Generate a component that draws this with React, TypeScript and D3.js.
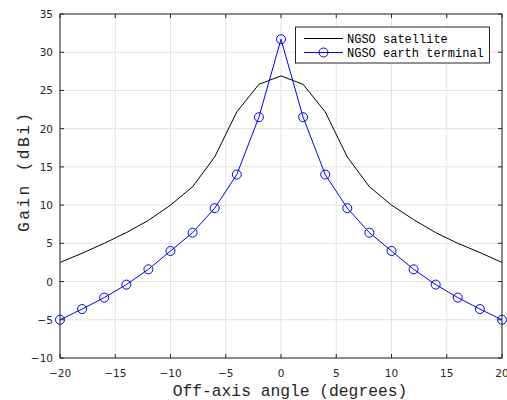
import React from "react";
import * as d3 from "d3";

const angles = [-20, -18, -16, -14, -12, -10, -8, -6, -4, -2, 0, 2, 4, 6, 8, 10, 12, 14, 16, 18, 20];
const satelliteGain = [2.5, 3.7, 5.0, 6.4, 8.0, 10.0, 12.4, 16.3, 22.2, 25.8, 26.9, 25.8, 22.2, 16.3, 12.4, 10.0, 8.1, 6.4, 5.0, 3.8, 2.5];
const terminalGain = [-5.0, -3.6, -2.1, -0.4, 1.6, 4.0, 6.4, 9.6, 14.0, 21.5, 31.7, 21.5, 14.0, 9.6, 6.4, 4.0, 1.6, -0.4, -2.1, -3.6, -5.0];
const xTicks = [-20, -15, -10, -5, 0, 5, 10, 15, 20];
const yTicks = [-10, -5, 0, 5, 10, 15, 20, 25, 30, 35];
const seriesNames = ["NGSO satellite", "NGSO earth terminal"];

export default function App() {
  const W = 507, H = 400;
  const L = 60, R = 502, T = 14, B = 358;
  const x = d3.scaleLinear().domain([-20, 20]).range([L, R]);
  const y = d3.scaleLinear().domain([-10, 35]).range([B, T]);
  const line = d3.line<number>().x((_, i) => x(angles[i])).y((d) => y(d));
  const fmt = (v: number) => (v < 0 ? "\u2212" + Math.abs(v) : String(v));
  const mono = "'Liberation Mono', 'DejaVu Sans Mono', monospace";
  const sans = "'DejaVu Sans', sans-serif";
  return (
    <svg width={W} height={H} style={{ position: "absolute", left: 0, top: 0, background: "#fff" }}>
      <rect x={0} y={0} width={W} height={H} fill="#fff" />
      {xTicks.map((t) => (
        <line key={"gx" + t} x1={x(t)} x2={x(t)} y1={T} y2={B} stroke="#e3e3e3" strokeWidth={1} />
      ))}
      {yTicks.map((t) => (
        <line key={"gy" + t} x1={L} x2={R} y1={y(t)} y2={y(t)} stroke="#e3e3e3" strokeWidth={1} />
      ))}
      <path d={line(satelliteGain) || ""} fill="none" stroke="#000" strokeWidth={1} />
      <path d={line(terminalGain) || ""} fill="none" stroke="#0000ff" strokeWidth={1} />
      {terminalGain.map((v, i) => (
        <circle key={"c" + i} cx={x(angles[i])} cy={y(v)} r={4.5} fill="none" stroke="#0000ff" strokeWidth={1} />
      ))}
      <rect x={L} y={T} width={R - L} height={B - T} fill="none" stroke="#262626" strokeWidth={1} />
      {xTicks.map((t) => (
        <g key={"tx" + t}>
          <line x1={x(t)} x2={x(t)} y1={B} y2={B - 4} stroke="#262626" />
          <line x1={x(t)} x2={x(t)} y1={T} y2={T + 4} stroke="#262626" />
          <text x={x(t)} y={377} textAnchor="middle" fontFamily={sans} fontSize={10.5} fill="#262626">{fmt(t)}</text>
        </g>
      ))}
      {yTicks.map((t) => (
        <g key={"ty" + t}>
          <line x1={L} x2={L + 4} y1={y(t)} y2={y(t)} stroke="#262626" />
          <line x1={R} x2={R - 4} y1={y(t)} y2={y(t)} stroke="#262626" />
          <text x={53} y={y(t) + 4} textAnchor="end" fontFamily={sans} fontSize={10.5} fill="#262626">{fmt(t)}</text>
        </g>
      ))}
      <text x={290} y={396} textAnchor="middle" fontFamily={mono} fontSize={16.3} fill="#262626">Off-axis angle (degrees)</text>
      <text transform={`translate(29,172.5) rotate(-90)`} textAnchor="middle" fontFamily={mono} fontSize={16.3} textLength={119} lengthAdjust="spacing" fill="#262626">Gain (dBi)</text>
      <g>
        <rect x={295.5} y={27} width={194} height={36} fill="#fff" stroke="#262626" strokeWidth={1} />
        <line x1={304} x2={343} y1={38.5} y2={38.5} stroke="#000" />
        <text x={347} y={42.5} fontFamily={mono} fontSize={12} fill="#000">{seriesNames[0]}</text>
        <line x1={304} x2={343} y1={52.5} y2={52.5} stroke="#0000ff" />
        <circle cx={323.5} cy={52.5} r={4.5} fill="none" stroke="#0000ff" />
        <text x={347} y={56.5} fontFamily={mono} fontSize={12} fill="#000">{seriesNames[1]}</text>
      </g>
    </svg>
  );
}
